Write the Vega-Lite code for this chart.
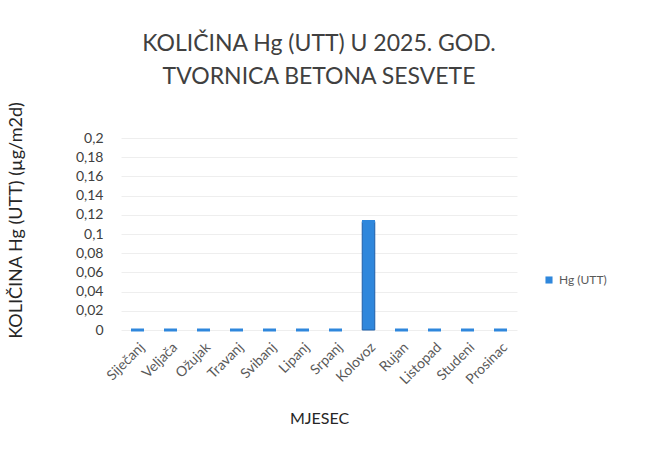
{
  "$schema": "https://vega.github.io/schema/vega-lite/v6.json",
  "autosize": "none",
  "width": 396,
  "height": 192,
  "padding": {"left": 121, "top": 138, "right": 135, "bottom": 123},
  "background": "white",
  "config": {
    "view": {"stroke": null},
    "font": "Lato",
    "locale": {"number": {"decimal": ",", "thousands": ".", "grouping": [3], "currency": ["", " €"]}}
  },
  "title": {
    "text": ["KOLIČINA Hg (UTT) U 2025. GOD.", "TVORNICA BETONA SESVETE"],
    "fontSize": 23,
    "fontWeight": "normal",
    "color": "#404040",
    "lineHeight": 33,
    "offset": 12,
    "anchor": "middle"
  },
  "data": {
    "values": [
      {"mjesec": "Siječanj", "serija": "Hg (UTT)", "vrijednost": 0},
      {"mjesec": "Veljača", "serija": "Hg (UTT)", "vrijednost": 0},
      {"mjesec": "Ožujak", "serija": "Hg (UTT)", "vrijednost": 0},
      {"mjesec": "Travanj", "serija": "Hg (UTT)", "vrijednost": 0},
      {"mjesec": "Svibanj", "serija": "Hg (UTT)", "vrijednost": 0},
      {"mjesec": "Lipanj", "serija": "Hg (UTT)", "vrijednost": 0},
      {"mjesec": "Srpanj", "serija": "Hg (UTT)", "vrijednost": 0},
      {"mjesec": "Kolovoz", "serija": "Hg (UTT)", "vrijednost": 0.113},
      {"mjesec": "Rujan", "serija": "Hg (UTT)", "vrijednost": 0},
      {"mjesec": "Listopad", "serija": "Hg (UTT)", "vrijednost": 0},
      {"mjesec": "Studeni", "serija": "Hg (UTT)", "vrijednost": 0},
      {"mjesec": "Prosinac", "serija": "Hg (UTT)", "vrijednost": 0}
    ]
  },
  "encoding": {
    "x": {
      "field": "mjesec",
      "type": "nominal",
      "sort": null,
      "scale": {"paddingInner": 0.62, "paddingOuter": 0.31},
      "axis": {
        "title": "MJESEC",
        "titleFontSize": 16,
        "titleFontWeight": "normal",
        "titleColor": "#262626",
        "titlePadding": 24,
        "labelAngle": -45,
        "labelFontSize": 14,
        "labelColor": "#595959",
        "labelPadding": 10,
        "domain": false,
        "ticks": false
      }
    },
    "y": {
      "field": "vrijednost",
      "type": "quantitative",
      "scale": {"domain": [0, 0.2], "nice": false},
      "axis": {
        "title": "KOLIČINA Hg (UTT) (µg/m2d)",
        "titleFontSize": 18,
        "titleFontWeight": "normal",
        "titleColor": "#262626",
        "titleAngle": -90,
        "titleX": -114,
        "titleY": 82,
        "titleAlign": "center",
        "titleBaseline": "top",
        "values": [0, 0.02, 0.04, 0.06, 0.08, 0.1, 0.12, 0.14, 0.16, 0.18, 0.2],
        "format": "~g",
        "labelFontSize": 14,
        "labelColor": "#404040",
        "labelPadding": 18,
        "domain": false,
        "ticks": false,
        "grid": true,
        "gridColor": "#eeeeee",
        "gridWidth": 1
      }
    }
  },
  "layer": [
    {
      "mark": {"type": "bar", "stroke": "#1f5fa8", "strokeWidth": 1},
      "encoding": {
        "color": {
          "field": "serija",
          "type": "nominal",
          "scale": {"range": ["#2f87dc"]},
          "legend": {
            "title": null,
            "orient": "none",
            "legendX": 422,
            "legendY": 136,
            "symbolType": "square",
            "symbolSize": 50,
            "symbolStrokeWidth": 0,
            "labelFontSize": 12,
            "labelColor": "#595959"
          }
        }
      }
    },
    {
      "mark": {"type": "tick", "thickness": 3, "color": "#2f87dc", "opacity": 1},
      "encoding": {"size": {"value": 13}}
    }
  ]
}
